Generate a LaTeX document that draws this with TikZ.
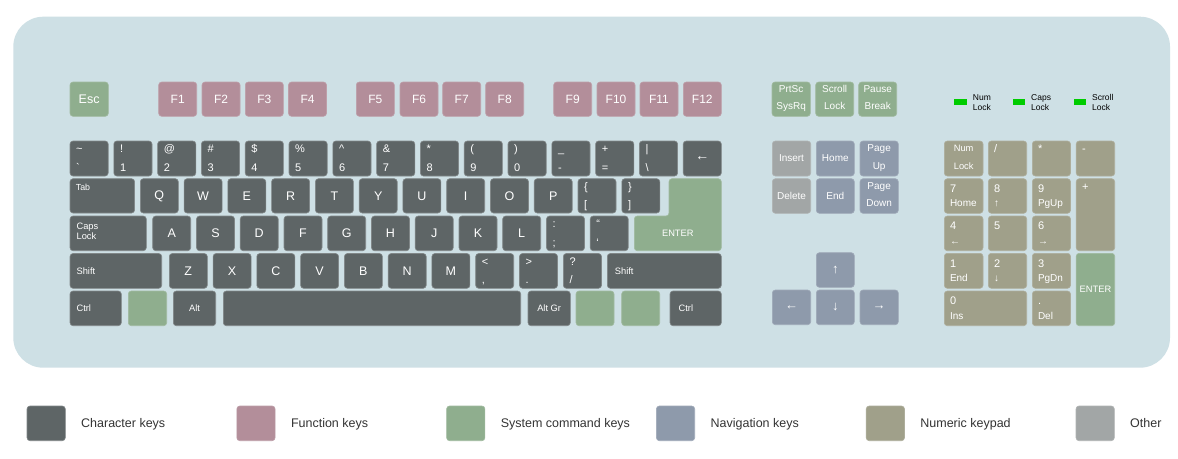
\documentclass[tikz,border=0pt]{standalone}
\usepackage{fontspec}
\setmainfont{Liberation Sans}
\usetikzlibrary{fit}
\definecolor{bgc}{HTML}{CEE0E5}
\definecolor{chc}{HTML}{5E6566}
\definecolor{fnc}{HTML}{B38E9A}
\definecolor{syc}{HTML}{8FAE8E}
\definecolor{nvc}{HTML}{8E9AAB}
\definecolor{nmc}{HTML}{A0A08A}
\definecolor{otc}{HTML}{A2A6A6}
\definecolor{ledc}{HTML}{00CC00}
\definecolor{txc}{HTML}{333333}
\tikzset{
  keyb/.style={rectangle, rounded corners=3pt, inner sep=0pt, line width=0.6pt},
  ch/.style={fill=chc, draw=chc!78!white},
  fn/.style={fill=fnc, draw=fnc!85!white},
  sy/.style={fill=syc, draw=syc!85!white},
  nv/.style={fill=nvc, draw=nvc!85!white},
  nm/.style={fill=nmc, draw=nmc!85!white},
  ot/.style={fill=otc, draw=otc!85!white},
  lb/.style={text=white, inner sep=0pt, font=\fontsize{11}{13}\selectfont},
  big/.style={lb, font=\fontsize{12.5}{14}\selectfont},
  md/.style={lb, font=\fontsize{10}{12}\selectfont},
  sm/.style={lb, font=\fontsize{9.3}{11}\selectfont},
  tiny/.style={lb, font=\fontsize{8.8}{10}\selectfont},
  ledt/.style={text=black, inner sep=0pt, font=\fontsize{8.5}{10}\selectfont},
  lgt/.style={text=txc, inner sep=0pt, font=\fontsize{12.5}{14}\selectfont},
}
% key: name, x1, y1, x2, y2, colour style
\newcommand\K[6]{\node[keyb,#6,fit={(#2,#3) (#4,#5)}] (#1) {};}
% centred label
\newcommand\KC[3][big]{\node[#1] (#2-t) at (#2.center) {#3};}
% upper/lower label
\newcommand\KD[3]{\node[lb,anchor=base west] (#1-u) at ([shift={(6.3,12)}]#1.north west) {#2};%
  \node[lb,anchor=base west] (#1-l) at ([shift={(6.3,-4.8)}]#1.south west) {#3};}
% single upper-left label
\newcommand\KU[3][lb]{\node[#1,anchor=base west] (#2-u) at ([shift={(6,12)}]#2.north west) {#3};}
% left label, vertically centred
\newcommand\KL[3][sm]{\node[#1,anchor=west] (#2-t) at ([xshift=6.7]#2.west) {#3};}
% two centred lines
\newcommand\KT[3]{\node[md,anchor=base] (#1-u) at ([shift={(0,10.8)}]#1.north) {#2};%
  \node[md,anchor=base] (#1-l) at ([shift={(0,-7.3)}]#1.south) {#3};}
% numeric keypad: digit and lower label
\newcommand\ND[3]{\node[lb,anchor=base west] (#1-u) at ([shift={(5.8,14)}]#1.north west) {#2};%
  \node[md,anchor=base west] (#1-l) at ([shift={(5.8,-7)}]#1.south west) {#3};}
\begin{document}
\begin{tikzpicture}[x=1pt,y=-1pt]
\useasboundingbox (0,0) rectangle (1178,458);
\fill[white] (0,0) rectangle (1178,458);
\node[fill=bgc, rounded corners=30pt, inner sep=0pt, fit={(13.3,16.7) (1170,367.7)}] (board) {};

% ---------- function row
\K{esc}{70}{82}{108.3}{116.3}{sy} \KC{esc}{Esc}
\foreach \n/\x in {1/158.7,2/202,3/245.3,4/288.5,5/356.3,6/400,7/442.7,8/485.7,9/553.7,10/597,11/640,12/683.3}{
  \K{f\n}{\x}{82}{\x+38}{116.3}{fn} \KC[lb,font=\fontsize{12}{14}\selectfont]{f\n}{F\n}
}

% ---------- number row
\K{k0}{70}{141}{108.2}{176}{ch} \KD{k0}{\textasciitilde}{\textasciigrave}
\K{k1}{113.8}{141}{152}{176}{ch} \KD{k1}{!}{1}
\K{k2}{157.6}{141}{195.8}{176}{ch} \KD{k2}{@}{2}
\K{k3}{201.4}{141}{239.6}{176}{ch} \KD{k3}{\#}{3}
\K{k4}{245.2}{141}{283.4}{176}{ch} \KD{k4}{\$}{4}
\K{k5}{289}{141}{327.2}{176}{ch} \KD{k5}{\%}{5}
\K{k6}{332.8}{141}{371}{176}{ch} \KD{k6}{\textasciicircum}{6}
\K{k7}{376.6}{141}{414.8}{176}{ch} \KD{k7}{\&}{7}
\K{k8}{420.4}{141}{458.6}{176}{ch} \KD{k8}{*}{8}
\K{k9}{464.2}{141}{502.4}{176}{ch} \KD{k9}{(}{9}
\K{k10}{508}{141}{546.2}{176}{ch} \KD{k10}{)}{0}
\K{k11}{551.8}{141}{590}{176}{ch} \KD{k11}{\_}{-}
\K{k12}{595.6}{141}{633.8}{176}{ch} \KD{k12}{+}{=}
\K{k13}{639.4}{141}{677.6}{176}{ch} \KD{k13}{|}{\textbackslash}
\K{bksp}{683.2}{141}{721.3}{176}{ch} \KC[lb,font=\fontsize{14}{16}\selectfont]{bksp}{←}

% ---------- tab row
\K{tab}{70}{178.7}{134.6}{213}{ch} \KU[tiny]{tab}{Tab}
\foreach \n/\x/\c in {q/140.3/Q,w/184.1/W,e/227.8/E,r/271.6/R,t/315.4/T,y/359.2/Y,u/402.9/U,i/446.7/I,o/490.5/O,p/534.2/P}{
  \K{\n}{\x}{178.7}{\x+38}{213}{ch} \KC{\n}{\c}
}
\K{lbr}{578}{178.7}{616}{213}{ch} \KD{lbr}{\{}{[}
\K{rbr}{621.8}{178.7}{659.8}{213}{ch} \KD{rbr}{\}}{]}
\draw[sy, line width=0.6pt, rounded corners=3pt] (669,178.7) -- (721.3,178.7) -- (721.3,250.7)
  -- (634.3,250.7) -- (634.3,216) -- (669,216) -- cycle;
\coordinate (entc) at (677.8,233.4);
\node[sm] (enter-t) at (entc) {ENTER};

% ---------- caps row
\K{caps}{70}{216}{146.3}{250.7}{ch}
\node[sm,anchor=base west] (caps-u) at ([shift={(6.7,13.3)}]caps.north west) {Caps};
\node[sm,anchor=base west] (caps-l) at ([shift={(6.7,24)}]caps.north west) {Lock};
\foreach \n/\x/\c in {a/152.7/A,s/196.5/S,d/240.2/D,f/284/F,g/327.7/G,h/371.5/H,j/415.2/J,k/459/K,l/502.7/L}{
  \K{\n}{\x}{216}{\x+38}{250.7}{ch} \KC{\n}{\c}
}
\K{semi}{546.5}{216}{584.5}{250.7}{ch} \KD{semi}{:}{;}
\K{quot}{590.2}{216}{628.2}{250.7}{ch} \KD{quot}{“}{‘}

% ---------- shift row
\K{lsh}{70}{253.5}{161.7}{288.3}{ch} \KL{lsh}{Shift}
\foreach \n/\x/\c in {z/169.3/Z,x/213.1/X,c/256.8/C,v/300.6/V,b/344.4/B,n/388.2/N,m/431.9/M}{
  \K{\n}{\x}{253.5}{\x+38}{288.3}{ch} \KC{\n}{\c}
}
\K{lt}{475.7}{253.5}{513.7}{288.3}{ch} \KD{lt}{<}{,}
\K{gt}{519.5}{253.5}{557.5}{288.3}{ch} \KD{gt}{>}{.}
\K{qm}{563.3}{253.5}{601.5}{288.3}{ch} \KD{qm}{?}{/}
\K{rsh}{607.3}{253.5}{721.3}{288.3}{ch} \node[sm,anchor=west] (rsh-t) at ([xshift=7.7]rsh.west) {Shift};

% ---------- bottom row
\K{lctrl}{70}{291}{121.3}{325.7}{ch} \KL{lctrl}{Ctrl}
\K{lwin}{128.3}{291}{166.7}{325.7}{sy}
\K{lalt}{173.3}{291}{215.7}{325.7}{ch} \KC[sm]{lalt}{Alt}
\K{space}{223.3}{291}{520.7}{325.7}{ch}
\K{altgr}{528}{291}{570.3}{325.7}{ch} \KC[sm]{altgr}{Alt Gr}
\K{rwin}{576}{291}{614}{325.7}{sy}
\K{menu}{621.7}{291}{659.7}{325.7}{sy}
\K{rctrl}{670}{291}{721.3}{325.7}{ch} \node[sm,anchor=west] (rctrl-t) at ([xshift=8.7]rctrl.west) {Ctrl};

% ---------- system / navigation cluster
\K{prt}{772}{82}{810.3}{116.3}{sy} \KT{prt}{PrtSc}{SysRq}
\K{scr}{815.7}{82}{853.7}{116.3}{sy} \KT{scr}{Scroll}{Lock}
\K{pau}{858.7}{82}{896.7}{116.3}{sy} \KT{pau}{Pause}{Break}
\K{ins}{772.3}{141}{810.7}{176}{ot} \KC[md]{ins}{Insert}
\K{home}{816.3}{141}{854.3}{176}{nv} \KC[md]{home}{Home}
\K{pgup}{860}{141}{898.3}{176}{nv} \KT{pgup}{Page}{Up}
\K{del}{772.3}{178.7}{810.7}{213.3}{ot} \KC[md]{del}{Delete}
\K{end}{816.3}{178.7}{854.3}{213.3}{nv} \KC[md]{end}{End}
\K{pgdn}{860}{178.7}{898.3}{213.3}{nv} \KT{pgdn}{Page}{Down}
\K{up}{816.3}{252.7}{854.3}{287.3}{nv} \KC[lb,font=\fontsize{13}{15}\selectfont]{up}{↑}
\K{left}{772.3}{290}{810.7}{324.7}{nv} \KC[lb,font=\fontsize{13}{15}\selectfont]{left}{←}
\K{down}{816.3}{290}{854.3}{324.7}{nv} \KC[lb,font=\fontsize{13}{15}\selectfont]{down}{↓}
\K{right}{860}{290}{898.3}{324.7}{nv} \KC[lb,font=\fontsize{13}{15}\selectfont]{right}{→}

% ---------- LEDs
\node[fill=ledc, inner sep=0pt, fit={(954.3,99.3) (966.7,104.7)}] (led1) {};
\node[ledt,anchor=base west] (led1-u) at (972.7,100) {Num};
\node[ledt,anchor=base west] (led1-l) at (972.7,110) {Lock};
\node[fill=ledc, inner sep=0pt, fit={(1013,99.3) (1025.3,104.7)}] (led2) {};
\node[ledt,anchor=base west] (led2-u) at (1031,100) {Caps};
\node[ledt,anchor=base west] (led2-l) at (1031,110) {Lock};
\node[fill=ledc, inner sep=0pt, fit={(1074,99.3) (1086.3,104.7)}] (led3) {};
\node[ledt,anchor=base west] (led3-u) at (1092,100) {Scroll};
\node[ledt,anchor=base west] (led3-l) at (1092,110) {Lock};

% ---------- numeric keypad
\K{nlk}{944.3}{141}{983}{176}{nm}
\node[sm,anchor=base] (nlk-u) at ([shift={(0,10.8)}]nlk.north) {Num};
\node[sm,anchor=base] (nlk-l) at ([shift={(0,-7.3)}]nlk.south) {Lock};
\K{ndiv}{988.3}{141}{1026.7}{176}{nm} \KU{ndiv}{/}
\K{nmul}{1032.3}{141}{1070.5}{176}{nm} \KU{nmul}{*}
\K{nsub}{1076.2}{141}{1114.7}{176}{nm} \KU{nsub}{-}
\K{n7}{944.3}{178.7}{983}{213.3}{nm} \ND{n7}{7}{Home}
\K{n8}{988.3}{178.7}{1026.7}{213.3}{nm} \ND{n8}{8}{↑}
\K{n9}{1032.3}{178.7}{1070.5}{213.3}{nm} \ND{n9}{9}{PgUp}
\K{nadd}{1076.2}{178.7}{1114.7}{250.7}{nm} \KU{nadd}{+}
\K{n4}{944.3}{216}{983}{250.7}{nm} \ND{n4}{4}{←}
\K{n5}{988.3}{216}{1026.7}{250.7}{nm} \node[lb,anchor=base west] (n5-u) at ([shift={(5.8,14)}]n5.north west) {5};
\K{n6}{1032.3}{216}{1070.5}{250.7}{nm} \ND{n6}{6}{→}
\K{n1}{944.3}{253.3}{983}{288.3}{nm} \ND{n1}{1}{End}
\K{n2}{988.3}{253.3}{1026.7}{288.3}{nm} \ND{n2}{2}{↓}
\K{n3}{1032.3}{253.3}{1070.5}{288.3}{nm} \ND{n3}{3}{PgDn}
\K{nent}{1076.2}{253.3}{1114.7}{325.7}{sy} \KC[sm]{nent}{ENTER}
\K{n0}{944.3}{291}{1026.7}{325.7}{nm} \ND{n0}{0}{Ins}
\K{ndot}{1032.3}{291}{1070.5}{325.7}{nm} \ND{ndot}{.}{Del}

% ---------- legend
\foreach \i/\s/\t in {0/ch/Character keys,1/fn/Function keys,2/sy/System command keys,3/nv/Navigation keys,4/nm/Numeric keypad,5/ot/Other}{
  \K{lg\i}{27+209.8*\i}{406}{65.3+209.8*\i}{440.7}{\s}
  \node[lgt,anchor=base west] (lg\i-t) at ([xshift=15.4]lg\i.east |- 0,427.3) {\t};
}
\end{tikzpicture}
\end{document}
